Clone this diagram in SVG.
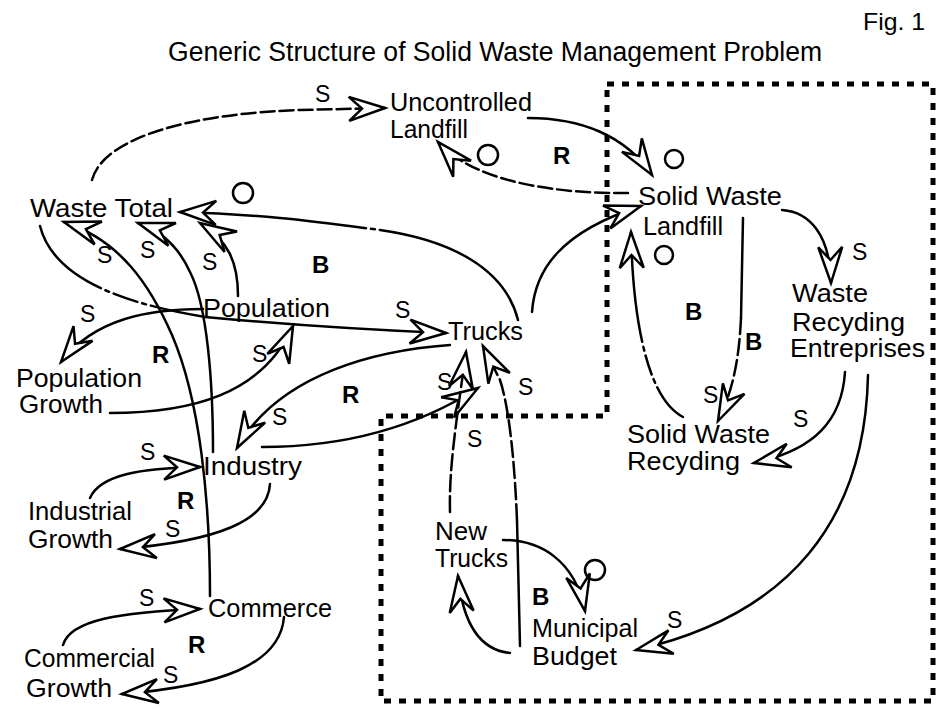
<svg xmlns="http://www.w3.org/2000/svg" width="939" height="711" viewBox="0 0 939 711">
<style>
.t{font-family:"Liberation Sans",Arial,Helvetica,sans-serif;font-size:25px;fill:#000}
.s{font-family:"Liberation Sans",Arial,Helvetica,sans-serif;font-size:23px;fill:#000}
.l{font-family:"Liberation Sans",Arial,Helvetica,sans-serif;font-size:24px;font-weight:bold;fill:#000}
.c{fill:none;stroke:#000;stroke-width:2.5;stroke-linecap:round}
.a{marker-end:url(#ah)}
.d1{stroke-dasharray:14 5}
.d2{stroke-dasharray:90 5 4 5 25 5 4 5 2000}
.d3{stroke-dasharray:175 5 4 5 2000}
.d4{stroke-dasharray:40 5 4 5 20 5 4 5 2000}
.d5{stroke-dasharray:16 5}
.o{fill:none;stroke:#000;stroke-width:2.5}
.box{fill:none;stroke:#000;stroke-width:5;stroke-dasharray:7 8}
</style>
<defs>
<marker id="ah" viewBox="-40 -15 44 30" refX="0" refY="0" markerWidth="44" markerHeight="30" markerUnits="userSpaceOnUse" orient="auto" overflow="visible">
<path d="M0,0 L-36,-12 L-23,0 L-36,12 Z" fill="#fff" stroke="#000" stroke-width="2.5" stroke-linejoin="miter"/>
</marker>
</defs>
<rect width="939" height="711" fill="#fff"/>
<text class="t" x="863" y="30" style="font-size:24px" textLength="62" lengthAdjust="spacingAndGlyphs">Fig. 1</text>
<text class="t" x="168" y="61" style="font-size:27px" textLength="654" lengthAdjust="spacingAndGlyphs">Generic Structure of Solid Waste Management Problem</text>
<path class="box" d="M607,84 L933,84 L933,701 L381,701 L381,416 L607,416 Z"/>
<g id="connectors">
<path class="c a d1" d="M92,180 C104,135 200,113 300,110 L385,108"/>
<path class="c a" d="M528,118 C580,118 625,135 652,175"/>
<path class="c a d1" d="M628,193 C560,194 475,183 438,142"/>
<path class="c a d3" d="M518,320 C505,268 450,240 380,230 C320,222 260,214 180,212"/>
<path class="c a" d="M238,296 C238,262 228,240 200,223"/>
<path class="c a" d="M213,452 C213,380 207,305 190,272 C180,250 165,232 138,223"/>
<path class="c a" d="M210,596 C210,500 200,400 172,335 C150,285 120,240 64,222"/>
<path class="c a d2" d="M40,226 C55,285 140,306 205,317 C280,324 370,330 446,333"/>
<path class="c a" d="M203,309 C150,309 95,318 61,362"/>
<path class="c a" d="M110,413 C190,413 262,395 293,326"/>
<path class="c a" d="M450,345 C380,350 280,372 237,448"/>
<path class="c a" d="M262,447 C350,447 420,425 478,388"/>
<path class="c a d5" d="M450,512 C449,470 455,430 466,352"/>
<path class="c" d="M520,646 L517,520"/>
<path class="c a d5" d="M517,520 C515,470 510,410 500,380 L483,346"/>
<path class="c a" d="M510,653 C480,650 463,625 458,576"/>
<path class="c a" d="M503,540 C540,540 575,560 585,611"/>
<path class="c a" d="M532,312 C535,270 560,232 641,206"/>
<path class="c a" d="M782,210 C810,212 830,235 831,283"/>
<path class="c" d="M743,218 L741,318"/>
<path class="c a d5" d="M741,318 C739,360 733,390 718,421"/>
<path class="c a d4" d="M683,417 C650,400 633,330 631,232"/>
<path class="c a" d="M845,372 C842,420 815,450 754,463"/>
<path class="c a" d="M868,375 C865,520 790,615 636,650"/>
<path class="c a" d="M90,498 C100,475 140,468 200,467"/>
<path class="c a" d="M270,484 C268,520 220,541 120,549"/>
<path class="c a" d="M63,645 C70,620 120,612 200,609"/>
<path class="c a" d="M284,617 C280,665 220,686 122,694"/>
</g>
<g id="polarity">
<text class="s" x="315" y="102">S</text>
<text class="s" x="97" y="263">S</text>
<text class="s" x="140" y="258">S</text>
<text class="s" x="202" y="270">S</text>
<text class="s" x="80" y="322">S</text>
<text class="s" x="252" y="362">S</text>
<text class="s" x="395" y="318">S</text>
<text class="s" x="272" y="425">S</text>
<text class="s" x="437" y="390">S</text>
<text class="s" x="518" y="395">S</text>
<text class="s" x="467" y="447">S</text>
<text class="s" x="140" y="460">S</text>
<text class="s" x="165" y="537">S</text>
<text class="s" x="139" y="606">S</text>
<text class="s" x="163" y="683">S</text>
<text class="s" x="852" y="260">S</text>
<text class="s" x="703" y="403">S</text>
<text class="s" x="793" y="427">S</text>
<text class="s" x="667" y="628">S</text>
<circle class="o" cx="488" cy="155" r="10"/>
<circle class="o" cx="674" cy="159" r="9"/>
<circle class="o" cx="243" cy="193" r="10"/>
<circle class="o" cx="664" cy="255" r="9"/>
<circle class="o" cx="595" cy="570" r="10"/>
</g>
<g id="loops">
<text class="l" x="553" y="164">R</text>
<text class="l" x="312" y="273">B</text>
<text class="l" x="152" y="363">R</text>
<text class="l" x="342" y="403">R</text>
<text class="l" x="177" y="509">R</text>
<text class="l" x="188" y="653">R</text>
<text class="l" x="685" y="320">B</text>
<text class="l" x="745" y="350">B</text>
<text class="l" x="532" y="605">B</text>
</g>
<g id="uncontrolled-landfill"><text class="t"><tspan x="390" y="111" textLength="142" lengthAdjust="spacingAndGlyphs">Uncontrolled</tspan><tspan x="390" y="138" textLength="78" lengthAdjust="spacingAndGlyphs">Landfill</tspan></text></g>
<g id="waste-total"><text class="t" x="30" y="217" textLength="143" lengthAdjust="spacingAndGlyphs">Waste Total</text></g>
<g id="solid-waste-landfill"><text class="t"><tspan x="638" y="205" textLength="144" lengthAdjust="spacingAndGlyphs">Solid Waste</tspan><tspan x="643" y="235" textLength="80" lengthAdjust="spacingAndGlyphs">Landfill</tspan></text></g>
<g id="population"><text class="t" x="203" y="317" textLength="127" lengthAdjust="spacingAndGlyphs">Population</text></g>
<g id="trucks"><text class="t" x="448" y="340" textLength="75" lengthAdjust="spacingAndGlyphs">Trucks</text></g>
<g id="population-growth"><text class="t"><tspan x="16" y="387" textLength="126" lengthAdjust="spacingAndGlyphs">Population</tspan><tspan x="19" y="413" textLength="84" lengthAdjust="spacingAndGlyphs">Growth</tspan></text></g>
<g id="industry"><text class="t" x="203" y="475" textLength="99" lengthAdjust="spacingAndGlyphs">Industry</text></g>
<g id="industrial-growth"><text class="t"><tspan x="28" y="520" textLength="104" lengthAdjust="spacingAndGlyphs">Industrial</tspan><tspan x="28" y="548" textLength="85" lengthAdjust="spacingAndGlyphs">Growth</tspan></text></g>
<g id="commerce"><text class="t" x="208" y="617" textLength="124" lengthAdjust="spacingAndGlyphs">Commerce</text></g>
<g id="commercial-growth"><text class="t"><tspan x="24" y="667" textLength="131" lengthAdjust="spacingAndGlyphs">Commercial</tspan><tspan x="26" y="697" textLength="86" lengthAdjust="spacingAndGlyphs">Growth</tspan></text></g>
<g id="waste-recycling-entreprises"><text class="t"><tspan x="792" y="302" textLength="76" lengthAdjust="spacingAndGlyphs">Waste</tspan><tspan x="792" y="331" textLength="113" lengthAdjust="spacingAndGlyphs">Recyding</tspan><tspan x="790" y="357" textLength="135" lengthAdjust="spacingAndGlyphs">Entreprises</tspan></text></g>
<g id="solid-waste-recycling"><text class="t"><tspan x="627" y="443" textLength="143" lengthAdjust="spacingAndGlyphs">Solid Waste</tspan><tspan x="627" y="470" textLength="113" lengthAdjust="spacingAndGlyphs">Recyding</tspan></text></g>
<g id="new-trucks"><text class="t"><tspan x="435" y="540" textLength="52" lengthAdjust="spacingAndGlyphs">New</tspan><tspan x="435" y="567" textLength="73" lengthAdjust="spacingAndGlyphs">Trucks</tspan></text></g>
<g id="municipal-budget"><text class="t"><tspan x="532" y="637" textLength="106" lengthAdjust="spacingAndGlyphs">Municipal</tspan><tspan x="532" y="665" textLength="85" lengthAdjust="spacingAndGlyphs">Budget</tspan></text></g>
</svg>
